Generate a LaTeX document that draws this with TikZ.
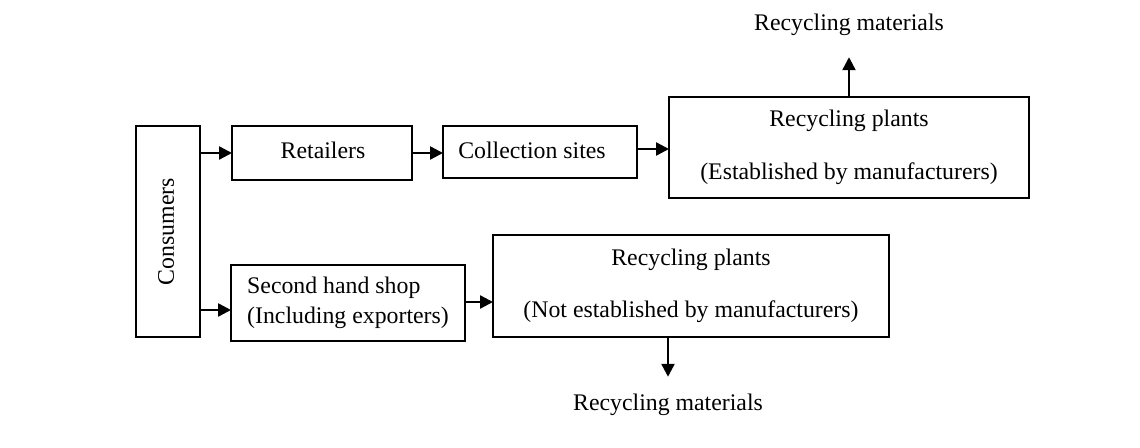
\documentclass[tikz,border=0pt]{standalone}
\usepackage{fontspec}
\setmainfont{Liberation Serif}
\usetikzlibrary{arrows.meta}
\begin{document}
\begin{tikzpicture}[x=0.5pt,y=-0.5pt,
  every node/.style={font=\fontsize{11.9}{14.3}\selectfont},
  box/.style={draw,line width=1pt,inner sep=0pt,outer sep=0pt},
  lbl/.style={inner sep=0pt},
  arr/.style={line width=1.2pt,-{Triangle[length=6.5pt,width=6.5pt]}}]
\useasboundingbox (0,0) rectangle (1140,448);
% boxes
\node[box,minimum width=32pt,minimum height=105.5pt] (cons) at (168,231.5) {};
\node[lbl,rotate=90] (constext) at (166,231.5) {Consumers};
\node[box,minimum width=90pt,minimum height=27pt] (ret) at (322,153) {};
\node[lbl] (rettext) at (323,150) {Retailers};
\node[box,minimum width=97pt,minimum height=26pt] (coll) at (540,152) {};
\node[lbl] (colltext) at (532,150) {Collection sites};
\node[box,minimum width=180pt,minimum height=50.5pt,align=center] (rp1) at (849,147.5)
  {Recycling plants\\[12.2pt](Established by manufacturers)};
\node[box,minimum width=117pt,minimum height=38pt,align=left] (shop) at (348,303)
  {Second hand shop\\[0.8pt](Including exporters)};
\node[box,minimum width=198pt,minimum height=51pt,align=center] (rp2) at (691,286)
  {Recycling plants\\[11.7pt](Not established by manufacturers)};
\node[lbl] (mat1) at (849,25) {Recycling materials};
\node[lbl] (mat2) at (668,405) {Recycling materials};
% connectors
\draw[arr] (cons.east |- ret.west) -- (ret.west);
\draw[arr] (ret.east) -- (ret.east -| coll.west);
\draw[arr] ([yshift=1.5pt]coll.east) -- ([yshift=1.5pt]coll.east -| rp1.west);
\draw[arr] (rp1.north) -- ([yshift=-10.5pt]mat1.south);
\draw[arr] ([yshift=-3.5pt]cons.east |- shop.west) -- ([yshift=-3.5pt]shop.west);
\draw[arr] ([yshift=0.5pt]shop.east) -- ([yshift=0.5pt]shop.east -| rp2.west);
\draw[arr] (rp2.south -| mat2.north) -- ([yshift=8.5pt]mat2.north);
\end{tikzpicture}
\end{document}
